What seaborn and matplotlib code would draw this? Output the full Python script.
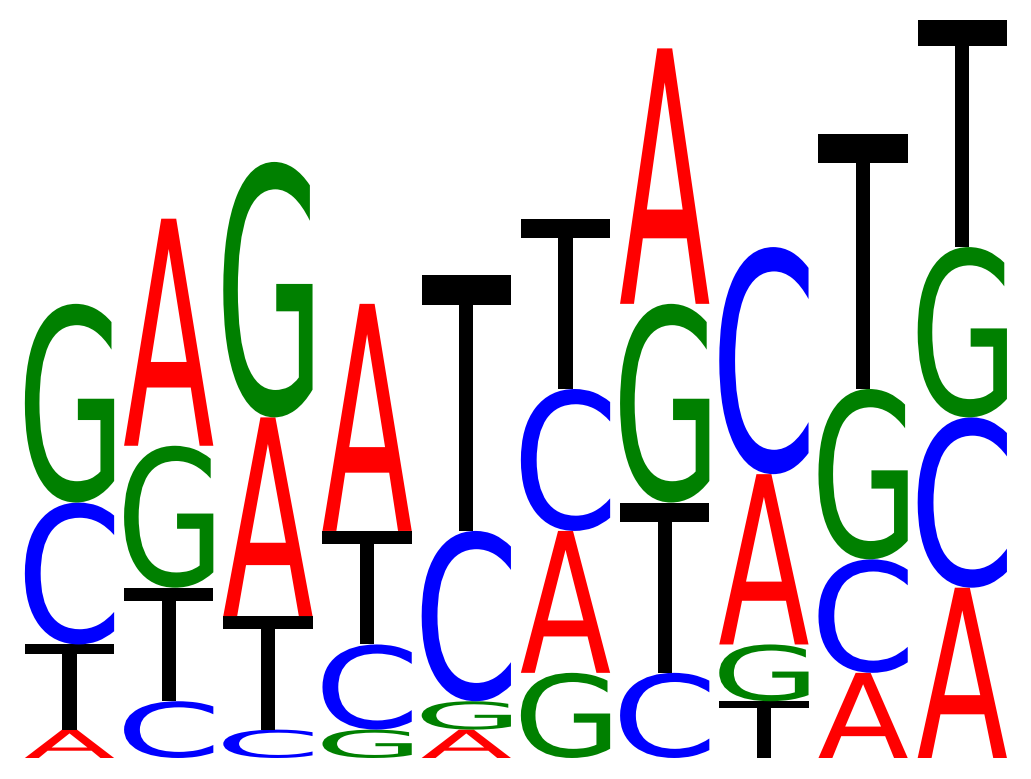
import matplotlib
matplotlib.use("Agg")
import matplotlib.pyplot as plt
import seaborn as sns
import pandas as pd
from matplotlib.textpath import TextPath
from matplotlib.patches import PathPatch
from matplotlib.font_manager import FontProperties
from matplotlib.transforms import Affine2D

## letter counts per position
positions = list(range(10))
counts_A = [1, 8, 7, 8, 1, 5, 9, 6, 3, 6]
counts_C = [5, 2, 1, 3, 6, 5, 3, 8, 4, 6]
counts_G = [7, 5, 9, 1, 1, 3, 7, 2, 6, 6]
counts_T = [3, 4, 4, 4, 9, 6, 6, 2, 9, 8]
## stacking order, bottom to top
stack_order = ["ATCG", "CTGA", "CTAG", "GCTA", "AGCT",
               "GACT", "CTGA", "TGAC", "ACGT", "ACGT"]

colors = {"A": "red", "C": "blue", "G": "green", "T": "black"}

df = pd.DataFrame({"A": counts_A, "C": counts_C, "G": counts_G, "T": counts_T},
                  index=positions)

sns.set_style("white")
fig = plt.figure(figsize=(10.31, 7.79), dpi=100)
ax = fig.add_axes([19.9 / 1031, 21 / 779, 992 / 1031, 738 / 779])

fp = FontProperties(family="DejaVu Sans")
width = 0.9


def draw_letter(ax, letter, x, y0, h):
    path = TextPath((0, 0), letter, size=1, prop=fp)
    bb = path.get_extents()
    tr = (Affine2D().translate(-bb.x0, -bb.y0)
          .scale(width / bb.width, h / bb.height)
          .translate(x - width / 2, y0))
    patch = PathPatch(tr.transform_path(path), facecolor=colors[letter],
                      edgecolor="none", linewidth=0)
    ax.add_patch(patch)


for pos in positions:
    bottom = 0
    for letter in stack_order[pos]:
        h = df.loc[pos, letter]
        draw_letter(ax, letter, pos, bottom, h)
        bottom += h

ax.set_xlim(-0.5, 9.5)
ax.set_ylim(0, df.sum(axis=1).max())
ax.axis("off")

fig.savefig("out.png", dpi=100)
